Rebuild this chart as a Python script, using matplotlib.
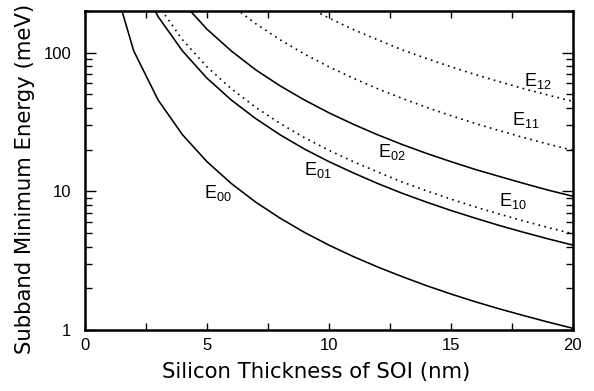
import matplotlib
matplotlib.use("Agg")
import matplotlib.pyplot as plt
from matplotlib.ticker import FixedLocator, LogLocator, NullFormatter, FixedFormatter

plt.rcParams['font.family'] = ['Liberation Sans', 'DejaVu Sans']
plt.rcParams['mathtext.default'] = 'regular'

# Subband minimum energies (meV) versus silicon film thickness (nm)
t00 = list(range(1, 21))
e00 = [410, 103, 45.6, 25.6, 16.4, 11.4, 8.37, 6.41, 5.06, 4.10,
       3.39, 2.85, 2.43, 2.09, 1.82, 1.60, 1.42, 1.27, 1.14, 1.03]

t01 = list(range(2, 21))
e01 = [410, 182, 103, 65.6, 45.6, 33.5, 25.6, 20.2, 16.4, 13.6,
       11.4, 9.70, 8.37, 7.29, 6.41, 5.67, 5.06, 4.54, 4.10]

t02 = list(range(3, 21))
e02 = [410, 231, 148, 103, 75.3, 57.7, 45.6, 36.9, 30.5, 25.6,
       21.8, 18.8, 16.4, 14.4, 12.8, 11.4, 10.2, 9.23]

t10 = list(range(3, 21))
e10 = [220, 124, 79.2, 55.0, 40.4, 30.9, 24.4, 19.8, 16.4, 13.8,
       11.7, 10.1, 8.80, 7.73, 6.85, 6.11, 5.48, 4.95]

t11 = list(range(6, 21))
e11 = [220, 162, 124, 97.8, 79.2, 65.5, 55.0, 46.9, 40.4, 35.2,
       30.9, 27.4, 24.4, 21.9, 19.8]

t12 = list(range(9, 21))
e12 = [220, 178, 147, 124, 105, 90.9, 79.2, 69.6, 61.7, 55.0, 49.4, 44.6]

# Curve labels: (text, thickness, energy)
labels = [
    ("$E_{00}$", 4.9, 9.0),
    ("$E_{01}$", 9.0, 13.1),
    ("$E_{02}$", 12.0, 17.6),
    ("$E_{10}$", 17.0, 7.85),
    ("$E_{11}$", 17.5, 30.2),
    ("$E_{12}$", 18.0, 57.8),
]

x_ticks = [0, 5, 10, 15, 20]
y_ticks = [1, 10, 100]

fig = plt.figure(figsize=(5.94, 3.91), dpi=100)
ax = fig.add_axes([0.143, 0.156, 0.821, 0.816])

solid = dict(color='black', lw=1.15, linestyle='-')
dotted = dict(color='black', lw=1.2, linestyle=(0, (1, 2.6)))

ax.plot(t00, e00, **solid)
ax.plot(t01, e01, **solid)
ax.plot(t02, e02, **solid)
ax.plot(t10, e10, **dotted)
ax.plot(t11, e11, **dotted)
ax.plot(t12, e12, **dotted)

for txt, x, y in labels:
    ax.text(x, y, txt, fontsize=13, ha='left', va='baseline')

ax.set_yscale('log')
ax.set_xlim(0, 20)
ax.set_ylim(1, 200)

ax.xaxis.set_major_locator(FixedLocator(x_ticks))
ax.xaxis.set_minor_locator(FixedLocator([2.5, 7.5, 12.5, 17.5]))
ax.yaxis.set_major_locator(FixedLocator(y_ticks))
ax.yaxis.set_major_formatter(FixedFormatter([str(v) for v in y_ticks]))
ax.yaxis.set_minor_locator(LogLocator(base=10, subs=range(2, 10)))
ax.yaxis.set_minor_formatter(NullFormatter())

ax.tick_params(axis='both', which='both', direction='in', top=True, right=True,
               width=1.0, colors='black', labelsize=12)
ax.tick_params(axis='x', which='both', length=5, pad=6)
ax.tick_params(axis='y', which='major', length=8, pad=10)
ax.tick_params(axis='y', which='minor', length=5)

for s in ax.spines.values():
    s.set_linewidth(1.8)

ax.set_xlabel("Silicon Thickness of SOI (nm)", fontsize=15.3, labelpad=6,
              family=['DejaVu Sans'])
ax.set_ylabel("Subband Minimum Energy (meV)", fontsize=15.3, labelpad=6,
              family=['DejaVu Sans'])
ax.xaxis.label.set_x(0.474)
ax.yaxis.label.set_y(0.473)

fig.savefig("out.png", dpi=100)
